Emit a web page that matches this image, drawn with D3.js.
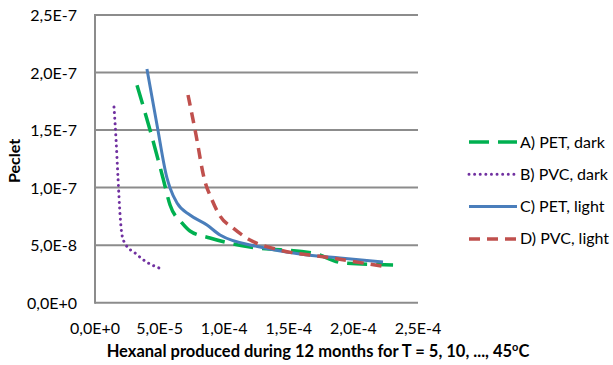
<!DOCTYPE html>
<html>
<head>
<meta charset="utf-8">
<script src="https://cdn.jsdelivr.net/npm/d3@7"></script>
<style>
  body { margin: 0; background: #fff; }
  text { font-family: Lato, "Open Sans", sans-serif; fill: #000; }
</style>
</head>
<body>
<script>
// Data (x = hexanal produced, y = Peclet)
var seriesNames = ["A) PET, dark", "B) PVC, dark", "C) PET, light", "D) PVC, light"]

var petDarkX = [3.25e-5, 4.26e-5, 5.26e-5, 5.81e-5, 6.73e-5, 7.35e-5, 8.9e-5, 1.2e-4, 1.687e-4, 1.92e-4, 2.307e-4]
var petDarkY = [1.89e-7, 1.50e-7, 1.084e-7, 8.49e-8, 6.93e-8, 6.23e-8, 5.62e-8, 4.84e-8, 4.32e-8, 3.45e-8, 3.28e-8]

var pvcDarkX = [1.47e-5, 1.63e-5, 1.78e-5, 1.94e-5, 2.09e-5, 2.4e-5, 3.1e-5, 3.87e-5, 4.95e-5]
var pvcDarkY = [1.70e-7, 1.414e-7, 1.084e-7, 7.62e-8, 5.88e-8, 5.01e-8, 4.32e-8, 3.62e-8, 3.02e-8]

var petLightX = [4.02e-5, 4.8e-5, 5.57e-5, 5.81e-5, 6.35e-5, 7.35e-5, 8.67e-5, 9.68e-5, 1.277e-4, 1.587e-4, 1.896e-4, 2.229e-4]
var petLightY = [2.03e-7, 1.544e-7, 1.084e-7, 9.97e-8, 8.66e-8, 7.62e-8, 6.75e-8, 5.88e-8, 4.84e-8, 4.23e-8, 3.88e-8, 3.54e-8]

var pvcLightX = [7.2e-5, 7.82e-5, 8.44e-5, 9.06e-5, 9.68e-5, 1.068e-4, 1.2e-4, 1.432e-4, 1.78e-4, 2.268e-4]
var pvcLightY = [1.805e-7, 1.457e-7, 1.084e-7, 8.92e-8, 7.53e-8, 6.49e-8, 5.45e-8, 4.58e-8, 3.97e-8, 3.10e-8]

var xTicks = [0, 5e-5, 1e-4, 1.5e-4, 2e-4, 2.5e-4]
var yTicks = [0, 5e-8, 1e-7, 1.5e-7, 2e-7, 2.5e-7]

// Line styles for each series
var styles = [
  {color: "#00b050", width: 3.5, dash: "20,9", cap: "butt"},
  {color: "#7030a0", width: 3, dash: "0.01,5.6", cap: "round"},
  {color: "#4a7ebb", width: 3, dash: null, cap: "butt"},
  {color: "#c0504d", width: 3.5, dash: "11,7", cap: "butt"}
]

var allX = [petDarkX, pvcDarkX, petLightX, pvcLightX]
var allY = [petDarkY, pvcDarkY, petLightY, pvcLightY]

var svgW = 613
var svgH = 365
// plot area edges (do not use "top" as a global name, it is window.top)
var plotLeft = 95, plotRight = 418, plotTop = 15, plotBottom = 302.7

var xScale = d3.scaleLinear().domain([0, 2.5e-4]).range([plotLeft, plotRight])
var yScale = d3.scaleLinear().domain([0, 2.5e-7]).range([plotBottom, plotTop])

function fmt(d) {
  return d3.format(".1e")(d).replace(".", ",").replace("e", "E").replace("\u2212", "-")
}

var svg = d3.select("body").append("svg")
            .attr("width", svgW)
            .attr("height", svgH)

// Horizontal gridlines
svg.selectAll(".grid")
   .data(yTicks)
   .enter()
   .append("line")
     .attr("x1", plotLeft)
     .attr("x2", plotRight)
     .attr("y1", function(d) { return yScale(d) })
     .attr("y2", function(d) { return yScale(d) })
     .attr("stroke", "#8c8c8c")
     .attr("stroke-width", 2)

// Vertical axis line
svg.append("line")
   .attr("x1", plotLeft).attr("x2", plotLeft)
   .attr("y1", plotTop - 1).attr("y2", plotBottom + 1)
   .attr("stroke", "#8c8c8c")
   .attr("stroke-width", 2)

// Y tick labels
svg.selectAll(".ylab")
   .data(yTicks)
   .enter()
   .append("text")
     .attr("x", 77)
     .attr("y", function(d) { return yScale(d) + 6 })
     .style("text-anchor", "end")
     .style("font-size", "16px")
     .text(fmt)

// X tick labels
svg.selectAll(".xlab")
   .data(xTicks)
   .enter()
   .append("text")
     .attr("x", function(d) { return xScale(d) })
     .attr("y", 334)
     .style("text-anchor", "middle")
     .style("font-size", "16px")
     .text(fmt)

// Series lines
var line = d3.line()
             .x(function(d) { return xScale(d[0]) })
             .y(function(d) { return yScale(d[1]) })
             .curve(d3.curveMonotoneX)

allX.forEach(function(xs, i) {
  var pts = xs.map(function(x, j) { return [x, allY[i][j]] })
  svg.append("path")
     .datum(pts)
     .attr("d", line)
     .attr("fill", "none")
     .attr("stroke", styles[i].color)
     .attr("stroke-width", styles[i].width)
     .attr("stroke-dasharray", styles[i].dash)
     .attr("stroke-linecap", styles[i].cap)
})

// Legend
var legend = svg.append("g").attr("class", "legend")
seriesNames.forEach(function(name, i) {
  var y = 142 + i * 32.3
  legend.append("line")
        .attr("x1", 469).attr("x2", 517)
        .attr("y1", y).attr("y2", y)
        .attr("stroke", styles[i].color)
        .attr("stroke-width", styles[i].width)
        .attr("stroke-dasharray", styles[i].dash)
        .attr("stroke-linecap", styles[i].cap)
  legend.append("text")
        .attr("x", 520)
        .attr("y", y + 5.5)
        .style("font-size", "16px")
        .text(name)
})

// Axis titles
svg.append("text")
   .attr("transform", "translate(19.5,161) rotate(-90)")
   .style("text-anchor", "middle")
   .style("font-size", "16px")
   .style("font-weight", "bold")
   .text("Peclet")

var xt = svg.append("text")
   .attr("x", 318)
   .attr("y", 357)
   .style("text-anchor", "middle")
   .style("font-size", "16.5px")
   .style("font-weight", "bold")
xt.append("tspan").text("Hexanal produced during 12 months for T = 5, 10, ..., 45")
xt.append("tspan").attr("dy", -6).style("font-size", "11px").text("o")
xt.append("tspan").attr("dy", 6).text("C")
</script>
</body>
</html>
